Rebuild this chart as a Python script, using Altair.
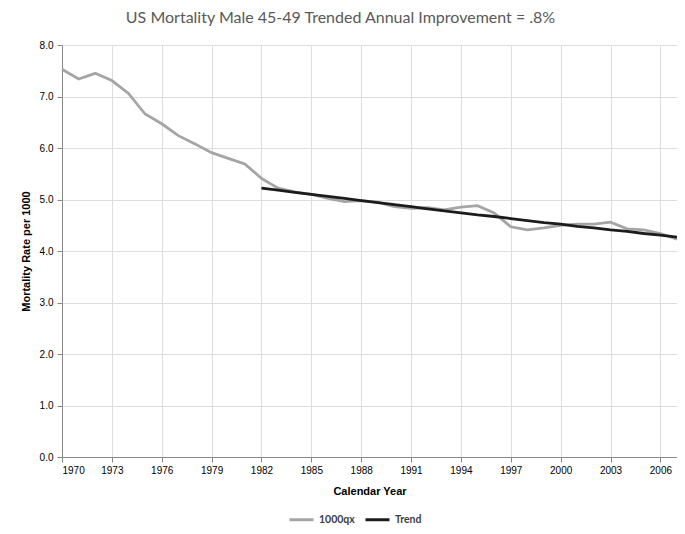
import altair as alt
import pandas as pd

years = list(range(1970, 2008))
qx_values = [7.53, 7.34, 7.45, 7.31, 7.06, 6.66, 6.47, 6.24, 6.08, 5.91,
             5.80, 5.69, 5.41, 5.22, 5.15, 5.10, 5.02, 4.96, 4.98, 4.95,
             4.86, 4.83, 4.84, 4.80, 4.85, 4.88, 4.74, 4.47, 4.41, 4.45,
             4.50, 4.52, 4.52, 4.56, 4.43, 4.41, 4.34, 4.23]
trend_years = list(range(1982, 2008))
trend_values = [5.22, 5.18, 5.14, 5.10, 5.06, 5.02, 4.98, 4.94, 4.90, 4.86,
                4.82, 4.78, 4.74, 4.70, 4.67, 4.63, 4.59, 4.55, 4.52, 4.48,
                4.45, 4.41, 4.38, 4.34, 4.31, 4.27]
series_names = ["1000qx", "Trend"]
series_colors = ["#a5a5a5", "#1c1c1c"]
x_ticks = list(range(1970, 2007, 3))
y_ticks = [0, 1, 2, 3, 4, 5, 6, 7, 8]

rows = [{"Year": y, "Value": v, "Series": series_names[0], "order": i}
        for i, (y, v) in enumerate(zip(years, qx_values))]
rows += [{"Year": y, "Value": v, "Series": series_names[1], "order": i}
         for i, (y, v) in enumerate(zip(trend_years, trend_values))]
df = pd.DataFrame(rows)

FONT = "Lato"

chart = alt.Chart(df).mark_line(strokeWidth=2.8).encode(
    x=alt.X("Year:Q",
            scale=alt.Scale(domain=[1970, 2007], nice=False, zero=False),
            axis=alt.Axis(values=x_ticks, format="d", title="Calendar Year",
                          tickSize=5, labelPadding=3, titlePadding=10)),
    y=alt.Y("Value:Q",
            scale=alt.Scale(domain=[0, 8], nice=False),
            axis=alt.Axis(values=y_ticks, format=".1f",
                          title="Mortality Rate per 1000",
                          tickSize=5, labelPadding=4, titlePadding=8)),
    color=alt.Color("Series:N",
                    scale=alt.Scale(domain=series_names, range=series_colors),
                    legend=alt.Legend(title=None, orient="none", direction="horizontal",
                                      legendX=226, legendY=461, padding=0,
                                      symbolType="stroke", symbolStrokeWidth=3,
                                      symbolSize=576, columnPadding=4,
                                      labelFont=FONT, labelFontWeight="bold",
                                      labelFontSize=10.5, labelColor="#404040")),
    detail="Series:N",
    order="order:Q",
).properties(
    width=615,
    height=412,
    title=alt.Title("US Mortality Male 45-49 Trended Annual Improvement = .8%",
                    font=FONT, fontSize=16, fontWeight="normal", color="#595959",
                    anchor="middle", dx=-29, offset=14),
    padding={"left": 54, "top": 37, "right": 0, "bottom": 69},
    autosize=alt.AutoSizeParams(type="none"),
).configure_view(
    stroke="#595959", strokeWidth=1.5
).configure_axis(
    gridColor="#d9d9d9", gridWidth=1.5, domainColor="#595959", domainWidth=1.5,
    tickColor="#595959", labelFont=FONT, labelFontWeight="bold", labelFontSize=10.5,
    labelColor="#404040", titleFont=FONT, titleFontWeight="bold", titleFontSize=11,
    titleColor="#404040"
).configure(background="white")

chart.save("out.html", embed_options={"renderer": "svg", "actions": False})
